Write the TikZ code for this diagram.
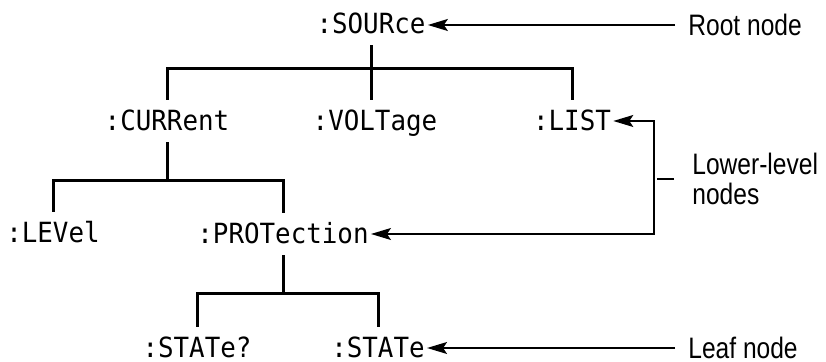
\documentclass[tikz,border=0pt]{standalone}
\usepackage{fontspec}
\usepackage{tikz}
\usetikzlibrary{arrows.meta}
\usetikzlibrary{calc}
\newfontfamily\cmdfont[FakeStretch=0.93]{DejaVu Sans Mono}
\newfontfamily\notefont[FakeStretch=0.83]{Liberation Sans}

\begin{document}
\begin{tikzpicture}[x=0.5pt, y=-0.5pt, >={Stealth[length=10pt,width=6pt,inset=2pt]},
        cmd_style/.style={anchor=base, inner xsep=1pt, inner ysep=5.5pt, text height=10pt, text depth=0pt, font=\cmdfont\fontsize{13.9pt}{16pt}\selectfont},
        note_style/.style={anchor=west, inner xsep=6.5pt, align=left, font=\notefont\fontsize{14.8pt}{15pt}\selectfont},
        branch_style/.style={draw=black, line width=1.5pt},
        pointer_style/.style={draw=black, line width=0.7pt, ->}]
        \useasboundingbox (0,0) rectangle (826,362);

        \node [cmd_style](src) at (371,34) {:SOURce};
        \node [cmd_style](cur) at (167,131) {:CURRent};
        \node [cmd_style](vol) at (375,131) {:VOLTage};
        \node [cmd_style](lst) at (572,131) {:LIST};
        \node [cmd_style](lev) at (53,243) {:LEVel};
        \node [cmd_style](pro) at (283,244) {:PROTection};
        \node [cmd_style](stq) at (197,358) {:STATe?};
        \node [cmd_style](st) at (378,358) {:STATe};

        \node [note_style](root) at (675,25) {Root node};
        \node [note_style, inner xsep=9pt](lower) at (674,179) {Lower-level\\nodes};
        \node [note_style](leaf) at (675,348) {Leaf node};
        \coordinate (bend) at (654,0);

        % tree
        \draw [branch_style] (src.south) -- (src.south |- vol.north);
        \path (src.south) ++(0,23) coordinate (srcbar);
        \draw [branch_style] (cur.north) |- (srcbar) -| (lst.north);
        \draw [branch_style] (cur.south) -- ++(0,38) coordinate (curbar);
        \draw [branch_style] (lev.north) |- (curbar) -| (pro.north);
        \draw [branch_style] (pro.south) -- ++(0,38) coordinate (probar);
        \draw [branch_style] (stq.north) |- (probar) -| (st.north);

        % callouts
        \draw [pointer_style] (root.west) -- (root.west -| src.east);
        \draw [pointer_style] (leaf.west) -- (leaf.west -| st.east);
        \draw [pointer_style, <->] (lst.east) -- (lst.east -| bend) -- (pro.east -| bend) -- (pro.east);
        \draw [pointer_style, -] (lower.west) -- ++(-17,0);
\end{tikzpicture}
\end{document}
